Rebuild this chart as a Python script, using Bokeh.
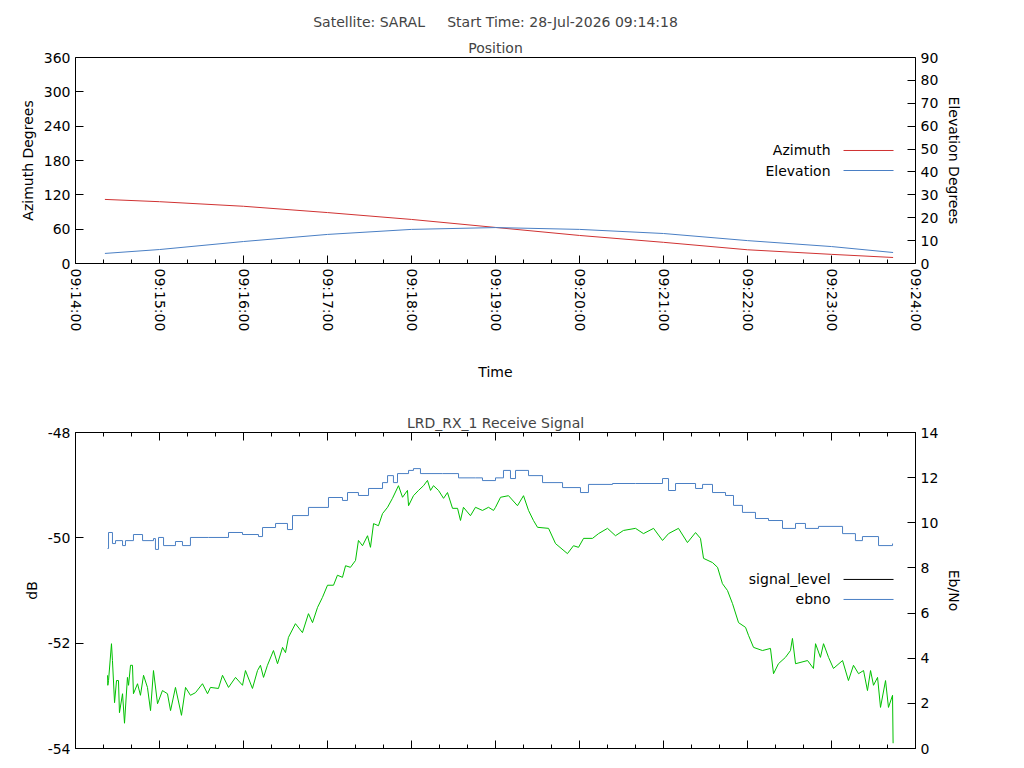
import math
from bokeh.plotting import figure
from bokeh.models import (Range1d, LinearAxis, FixedTicker, Title)
from bokeh.core.properties import value
from bokeh.layouts import column
from bokeh.embed import file_html
from bokeh.resources import INLINE

FONT = "DejaVu Sans"
RED = "#d03232"
BLUE = "#4a7fc4"
GREEN = "#00c000"

# ---- data: seconds after 09:14:00 ----
pos_t = [21, 60, 120, 180, 240, 300, 360, 420, 480, 540, 584]
azimuth = [112, 108, 100, 89, 77, 63, 49, 37, 24, 16, 10.5]
elevation = [4.4, 6.1, 9.6, 12.7, 14.9, 15.7, 14.9, 13.1, 10.0, 7.4, 4.8]

ebno_t = [22.9, 23.6, 26.4, 28.6, 33.6, 35.7, 41.4, 47.9, 55.7, 57.1, 59.3, 62.9, 71.4, 76.4, 82.1, 95.0,
          109.3, 119.3, 130.7, 133.6, 142.9, 151.4, 155.0, 166.4, 180.7, 190.7, 194.3, 202.1, 209.3, 219.3,
          222.9, 227.1, 230.0, 237.9, 241.4, 246.4, 262.1, 273.6, 285.7, 290.7, 300.0, 305.7, 310.7, 314.3,
          323.6, 333.6, 347.9, 360.7, 366.4, 383.6, 400.0, 419.3, 423.6, 428.6, 442.9, 447.9, 455.0, 464.3,
          470.0, 476.4, 485.7, 495.0, 505.0, 514.3, 521.4, 530.7, 547.9, 557.1, 562.1, 573.6, 583.6]
ebno = [8.86, 9.57, 9.08, 9.21, 8.99, 9.21, 9.48, 9.21, 9.30, 8.82, 9.35, 8.99, 9.17, 8.99, 9.35, 9.35,
        9.57, 9.48, 9.39, 9.79, 9.97, 9.70, 10.32, 10.68, 11.12, 10.99, 11.34, 11.21, 11.52, 11.78,
        12.09, 11.78, 12.18, 12.32, 12.40, 12.18, 12.18, 11.99, 11.99, 11.87, 11.99, 12.32, 11.96, 12.32,
        12.09, 11.78, 11.56, 11.34, 11.70, 11.74, 11.74, 11.96, 11.43, 11.74, 11.52, 11.70, 11.34, 11.21,
        10.77, 10.46, 10.19, 10.10, 9.75, 9.97, 9.75, 9.84, 9.52, 9.21, 9.39, 8.99, 9.08]

signal_t = [22.9, 23.1, 23.6, 25.7, 26.4, 27.9, 29.3, 30.7, 31.4, 33.6, 35.0, 37.1, 37.9, 39.3, 40.7, 41.4,
            44.3, 46.4, 48.6, 51.4, 53.6, 55.7, 58.6, 62.1, 65.7, 67.9, 71.4, 75.7, 78.6, 82.1,
            85.7, 90.7, 94.3, 96.4, 102.1, 105.0, 109.3, 114.3, 119.3, 121.4, 126.4, 130.0, 132.1, 134.3,
            137.1, 141.4, 144.3, 147.9, 150.0, 152.1, 157.1, 162.1, 166.4, 169.3, 172.9, 176.4, 180.0, 184.3,
            187.1, 190.7, 192.9, 196.4, 200.0, 202.1, 205.0, 208.6, 210.7, 212.9, 216.4, 219.3, 222.9, 226.4,
            230.7, 233.6, 237.1, 237.9, 241.4, 245.0, 248.6, 251.4, 253.6, 255.7, 259.3, 262.9, 265.7, 269.3,
            272.9, 275.0, 277.1, 282.1, 285.7, 290.7, 295.0, 298.6, 300.0, 303.6, 309.3, 315.7, 320.0, 323.6,
            327.1, 330.0, 337.9, 342.9, 351.4, 355.7, 359.3, 362.9, 369.3, 373.6, 380.0, 385.7, 391.4, 400.0,
            405.7, 412.9, 419.3, 423.6, 430.7, 437.1, 442.9, 446.4, 448.6, 455.0, 458.6, 462.1, 465.7, 469.3,
            473.6, 478.6, 480.7, 484.3, 490.7, 496.4, 498.6, 502.1, 507.1, 510.7, 512.1, 514.3, 522.9, 527.1,
            528.6, 532.1, 534.3, 537.9, 541.4, 547.9, 552.1, 555.7, 559.3, 562.9, 565.7, 567.9, 570.0, 572.9,
            575.0, 578.6, 580.7, 583.6, 584.0]
signal_level = [-52.61, -52.80, -52.71, -52.01, -52.33, -53.13, -52.71, -52.71, -53.32, -52.96, -53.52, -52.65, -52.80, -52.42, -52.42, -52.96,
                -52.77, -52.99, -52.61, -52.84, -53.28, -52.52, -53.15, -52.90, -52.96, -53.28, -52.84, -53.37, -52.84, -52.99,
                -52.94, -52.77, -52.96, -52.84, -52.86, -52.61, -52.84, -52.65, -52.80, -52.52, -52.86, -52.52, -52.42, -52.65,
                -52.42, -52.14, -52.39, -52.08, -52.18, -51.89, -51.63, -51.80, -51.44, -51.61, -51.32, -51.13, -50.90, -50.90,
                -50.71, -50.75, -50.53, -50.56, -50.43, -50.05, -50.15, -49.96, -50.18, -49.73, -49.77, -49.54, -49.42, -49.25,
                -49.01, -49.23, -49.10, -49.39, -49.20, -49.10, -49.01, -48.91, -49.10, -49.01, -49.10, -49.25, -49.14, -49.44,
                -49.44, -49.67, -49.42, -49.58, -49.42, -49.48, -49.42, -49.48, -49.42, -49.23, -49.20, -49.39, -49.20, -49.48,
                -49.67, -49.80, -49.82, -50.11, -50.30, -50.15, -50.18, -50.01, -50.01, -49.92, -49.82, -49.96, -49.86, -49.82,
                -49.92, -49.82, -50.05, -49.92, -49.82, -50.09, -49.90, -50.01, -50.39, -50.47, -50.56, -50.87, -51.00, -51.25,
                -51.61, -51.70, -51.85, -52.08, -52.14, -52.10, -52.58, -52.39, -52.27, -52.14, -51.91, -52.39, -52.33, -52.48,
                -52.01, -52.27, -52.01, -52.27, -52.48, -52.33, -52.71, -52.42, -52.58, -52.52, -52.90, -52.52, -52.80, -52.65,
                -53.22, -52.71, -53.22, -52.99, -53.90]

x_ticks = [0, 60, 120, 180, 240, 300, 360, 420, 480, 540, 600]
x_labels = ["09:14:00", "09:15:00", "09:16:00", "09:17:00", "09:18:00", "09:19:00",
            "09:20:00", "09:21:00", "09:22:00", "09:23:00", "09:24:00"]
x_minor = list(range(0, 601, 20))
db_ticks = [-54, -52, -50, -48]
db_labels = ["-54", "-52", "-50", "-48"]


def style_axis(ax, size="14px"):
    ax.major_label_text_font = FONT
    ax.major_label_text_font_size = size
    ax.major_label_text_color = "black"
    ax.axis_label_text_font = FONT
    ax.axis_label_text_font_size = size
    ax.axis_label_text_font_style = "normal"
    ax.axis_label_text_color = "black"
    ax.major_tick_in = 8
    ax.major_tick_out = 0
    ax.minor_tick_in = 4
    ax.minor_tick_out = 0
    ax.axis_line_color = None
    ax.major_tick_line_color = "black"
    ax.minor_tick_line_color = "black"


def base_fig(height, top, bottom):
    p = figure(width=1008, height=height, output_backend="svg", toolbar_location=None,
               x_range=Range1d(0, 600), min_border_left=75, min_border_right=93,
               min_border_top=top, min_border_bottom=bottom, frame_width=840)
    p.grid.visible = False
    p.outline_line_color = "black"
    p.outline_line_width = 1
    p.background_fill_color = "white"
    p.border_fill_color = "white"
    p.xaxis.ticker = FixedTicker(ticks=x_ticks, minor_ticks=x_minor)
    return p


def add_title(p, text, standoff):
    p.add_layout(Title(text=text, align="center", text_font=FONT, text_font_size="14px",
                       text_font_style="normal", standoff=standoff), "above")


# ---- top panel ----
p1 = base_fig(400, 57, 137)
p1.frame_height = 206
p1.y_range = Range1d(0, 360)
p1.extra_y_ranges = {"el": Range1d(0, 90)}
p1.yaxis.ticker = FixedTicker(ticks=[0, 60, 120, 180, 240, 300, 360], minor_ticks=[])
p1.yaxis.axis_label = "Azimuth Degrees"
rax = LinearAxis(y_range_name="el", axis_label="Elevation Degrees",
                 ticker=FixedTicker(ticks=list(range(0, 91, 10)), minor_ticks=[]))
p1.add_layout(rax, "right")
p1.xaxis.major_label_overrides = {t: l for t, l in zip(x_ticks, x_labels)}
p1.xaxis.major_label_orientation = -math.pi / 2
p1.xaxis.axis_label = "Time"
for ax in p1.axis:
    style_axis(ax)
p1.xaxis.axis_label_standoff = 30
p1.line(pos_t, azimuth, line_color=RED, line_width=1)
p1.line(pos_t, elevation, line_color=BLUE, line_width=1, y_range_name="el")
add_title(p1, "Position", 4)
add_title(p1, "Satellite: SARAL\u00a0\u00a0\u00a0\u00a0 Start Time: 28-Jul-2026 09:14:18", 12)
for i, (name, col) in enumerate([("Azimuth", RED), ("Elevation", BLUE)]):
    yv = 197.5 - i * 35
    p1.segment(x0=[548.6], y0=[yv], x1=[584.3], y1=[yv], line_color=col, line_width=1)
    p1.text(x=[539.3], y=[yv], text=[name], text_align="right", text_baseline="middle",
            text_font=value(FONT), text_font_size=value("14px"), text_color="black")

# ---- bottom panel ----
p2 = base_fig(360, 32, 12)
p2.frame_height = 316
p2.y_range = Range1d(-54, -48)
p2.extra_y_ranges = {"eb": Range1d(0, 14)}
p2.yaxis.ticker = FixedTicker(ticks=db_ticks, minor_ticks=[])
p2.yaxis.major_label_overrides = {t: l for t, l in zip(db_ticks, db_labels)}
p2.yaxis.axis_label = "dB"
rax2 = LinearAxis(y_range_name="eb", axis_label="Eb/No",
                  ticker=FixedTicker(ticks=list(range(0, 15, 2)), minor_ticks=[]))
p2.add_layout(rax2, "right")
top_ax = LinearAxis(ticker=FixedTicker(ticks=x_ticks, minor_ticks=x_minor))
p2.add_layout(top_ax, "above")
for ax in p2.axis:
    style_axis(ax)
p2.xaxis.major_label_overrides = {t: "" for t in x_ticks}
p2.xaxis.major_label_standoff = 0
p2.step(ebno_t, ebno, mode="after", line_color=BLUE, line_width=1, y_range_name="eb")
p2.line(signal_t, signal_level, line_color=GREEN, line_width=1)
add_title(p2, "LRD_RX_1 Receive Signal", 4)
for i, (name, col) in enumerate([("signal_level", "black"), ("ebno", BLUE)]):
    yv = -50.79 - i * 0.38
    p2.segment(x0=[548.6], y0=[yv], x1=[584.3], y1=[yv], line_color=col, line_width=1)
    p2.text(x=[539.3], y=[yv], text=[name], text_align="right", text_baseline="middle",
            text_font=value(FONT), text_font_size=value("14px"), text_color="black")

layout = column(p1, p2, spacing=0)
open("out.html", "w").write(file_html(layout, INLINE))
